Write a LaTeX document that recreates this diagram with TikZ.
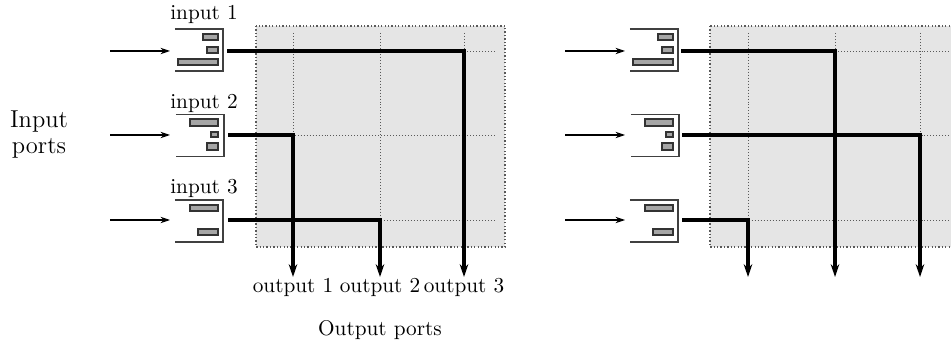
\documentclass[tikz,border=0pt]{standalone}
\usetikzlibrary{arrows.meta}
\begin{document}
\begin{tikzpicture}[x=0.47pt,y=-0.47pt,
  gridline/.style={densely dotted, black!65, line width=0.4pt},
  swbox/.style={fill=black!10, draw=black!65, densely dotted, line width=0.6pt},
  route/.style={line width=1.5pt},
  outarrow/.style={line width=1.5pt, -{Stealth[length=6pt,width=4pt]}},
  inarrow/.style={line width=0.5pt, -{Stealth[length=4.5pt,width=3pt]}},
  bufnode/.style={minimum width=22.6pt, minimum height=19.7pt, inner sep=0pt, outer sep=0pt},
  bufline/.style={line width=0.6pt, draw=black!75},
  bar/.style={fill=black!35, draw=black!80, line width=0.5pt},
  lbl/.style={inner sep=0pt}
]
\clip (0,0) rectangle (951,341);
\fill[white] (0,0) rectangle (951,341);

% ---------- left panel ----------
\draw[swbox] (256,26) rectangle (505,247);
\foreach \x in {293,380,464} \draw[gridline] (\x,33) -- (\x,222);
\foreach \y in {51,135,220} \draw[gridline] (256,\y) -- (496,\y);

\node[bufnode] (L1) at (199,50) {};
\node[bufnode] (L2) at (200,135.5) {};
\node[bufnode] (L3) at (199,221) {};
\foreach \b in {L1,L2,L3}
  \draw[bufline] (\b.north west) -- (\b.north east) -- (\b.south east) -- (\b.south west);
\draw[bar] (203,34) rectangle (218,40);
\draw[bar] (207,47) rectangle (218,53);
\draw[bar] (178,59) rectangle (218,65);
\draw[bar] (190,119) rectangle (218,126);
\draw[bar] (211,132) rectangle (218,137);
\draw[bar] (207,143) rectangle (218,150);
\draw[bar] (190,205) rectangle (218,211);
\draw[bar] (198,229) rectangle (218,235);

\node[lbl] (lin1) at (204,14) {input 1};
\node[lbl] (lin2) at (204,103) {input 2};
\node[lbl] (lin3) at (204,188) {input 3};

\coordinate (LS1) at (110,51);
\coordinate (LS2) at (110,135);
\coordinate (LS3) at (110,220);
\draw[inarrow] (LS1) -- (170,51);
\draw[inarrow] (LS2) -- (170,135);
\draw[inarrow] (LS3) -- (170,220);

\coordinate (LO1) at (293,277);
\coordinate (LO2) at (380,277);
\coordinate (LO3) at (464,277);
\draw[outarrow] (227,51) -| (LO3);
\draw[outarrow] (228,135) -| (LO1);
\draw[outarrow] (228,220) -| (LO2);

\node[lbl] (lo1) at (293,287) {output 1};
\node[lbl] (lo2) at (380,287) {output 2};
\node[lbl] (lo3) at (464,287) {output 3};

\node[lbl, align=center, font=\fontsize{11.5}{12}\selectfont] (inports) at (39,134.5) {Input\\ports};
\node[lbl] (outports) at (380,330) {Output ports};

% ---------- right panel ----------
\draw[swbox] (710,26) rectangle (980,247);
\foreach \x in {748,835,920} \draw[gridline] (\x,33) -- (\x,222);
\foreach \y in {51,135,220} \draw[gridline] (710,\y) -- (975,\y);

\node[bufnode] (R1) at (654,50) {};
\node[bufnode] (R2) at (655,135.5) {};
\node[bufnode] (R3) at (654,221) {};
\foreach \b in {R1,R2,R3}
  \draw[bufline] (\b.north west) -- (\b.north east) -- (\b.south east) -- (\b.south west);
\draw[bar] (658,34) rectangle (673,40);
\draw[bar] (662,47) rectangle (673,53);
\draw[bar] (633,59) rectangle (673,65);
\draw[bar] (645,119) rectangle (673,126);
\draw[bar] (666,132) rectangle (673,137);
\draw[bar] (662,143) rectangle (673,150);
\draw[bar] (645,205) rectangle (673,211);
\draw[bar] (653,229) rectangle (673,235);

\coordinate (RS1) at (565,51);
\coordinate (RS2) at (565,135);
\coordinate (RS3) at (565,220);
\draw[inarrow] (RS1) -- (625,51);
\draw[inarrow] (RS2) -- (625,135);
\draw[inarrow] (RS3) -- (625,220);

\coordinate (RO1) at (748,277);
\coordinate (RO2) at (835,277);
\coordinate (RO3) at (920,277);
\draw[outarrow] (681,51) -| (RO2);
\draw[outarrow] (682,135) -| (RO3);
\draw[outarrow] (682,220) -| (RO1);
\end{tikzpicture}
\end{document}
